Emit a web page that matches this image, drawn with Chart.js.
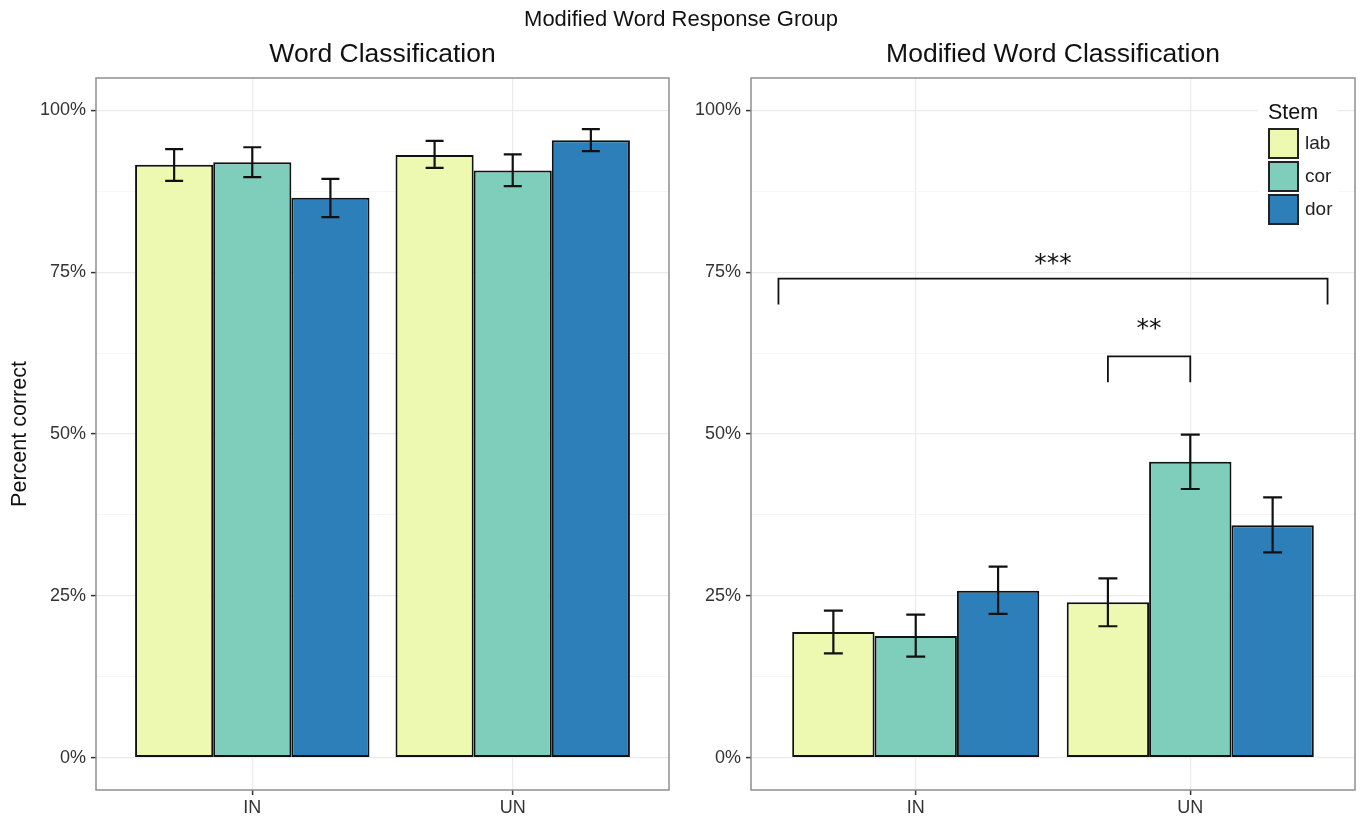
<!DOCTYPE html>
<html>
<head>
<meta charset="utf-8">
<title>Modified Word Response Group</title>
<script src="https://cdn.jsdelivr.net/npm/chart.js@4.4.1/dist/chart.umd.min.js"></script>
<style>
  html, body { margin: 0; padding: 0; background: #fff; }
  #wrap { position: relative; width: 1362px; height: 823px; overflow: hidden; }
  #leftChart { position: absolute; left: 0; top: 0; }
  #rightChart { position: absolute; left: 680px; top: 0; }
  #supTitle {
    position: absolute; left: 0; top: 7px; width: 1362px; text-align: center;
    font: 22px 'Liberation Sans', Arial, sans-serif; line-height: 24px; color: #111;
  }
</style>
</head>
<body>
<div id="wrap">
  <canvas id="leftChart" width="680" height="823"></canvas>
  <canvas id="rightChart" width="682" height="823"></canvas>
  <div id="supTitle">Modified Word Response Group</div>
</div>
<script>
// categories and stems
const categories = ['IN', 'UN'];
const stems = ['lab', 'cor', 'dor'];
const stemColors = ['#edf8b1', '#7fcdbb', '#2c7fb8'];
const yTicks = [0, 12.5, 25, 37.5, 50, 62.5, 75, 87.5, 100];

// Word Classification - percent correct [IN, UN]
const wordLab = [91.6, 93.1];
const wordCor = [92.0, 90.7];
const wordDor = [86.5, 95.4];
// error bars [low, high] per category
const wordLabErr = [[89.1, 94.0], [91.1, 95.3]];
const wordCorErr = [[89.7, 94.3], [88.3, 93.2]];
const wordDorErr = [[83.5, 89.4], [93.7, 97.1]];

// Modified Word Classification - percent correct [IN, UN]
const modLab = [19.4, 24.0];
const modCor = [18.8, 45.7];
const modDor = [25.8, 35.9];
const modLabErr = [[16.1, 22.7], [20.3, 27.7]];
const modCorErr = [[15.6, 22.1], [41.5, 49.9]];
const modDorErr = [[22.2, 29.5], [31.7, 40.2]];

// significance brackets (right panel), x in category units, y in percent
const bracketFrom = [0.5, 1.7];
const bracketTo = [2.5, 2.0];
const bracketY = [74, 62];
const bracketTipY = [70, 58];
const bracketLabels = ['***', '**'];
const bracketLabelY = [77, 67];

Chart.defaults.font.family = "'Liberation Sans', Arial, sans-serif";
Chart.defaults.color = '#333';

function makeDatasets(values, errors) {
  return stems.map((s, k) => ({
    label: s,
    data: categories.map((c, i) => ({ x: i + 1, y: values[k][i] })),
    errors: errors[k],
    backgroundColor: stemColors[k],
    borderColor: '#111',
    borderWidth: 2,
    borderSkipped: false,
    categoryPercentage: 0.9,
    barPercentage: 1.0
  }));
}

const isMajor = v => v % 25 === 0;

function panelOptions(titleText, yTitle, yWidth, rightPad) {
  return {
    responsive: false,
    animation: false,
    events: [],
    layout: { padding: { left: 0, right: rightPad, top: 0, bottom: 0 } },
    plugins: {
      legend: { display: false },
      tooltip: { enabled: false },
      title: {
        display: true,
        text: titleText,
        fullSize: false,
        color: '#111',
        font: { size: 26.5, weight: 'normal' },
        padding: { top: 39, bottom: 7.2 }
      }
    },
    scales: {
      x: {
        type: 'linear',
        min: 0.4,
        max: 2.6,
        offset: false,
        afterBuildTicks: axis => { axis.ticks = categories.map((c, i) => ({ value: i + 1 })); },
        afterFit: axis => { axis.height = 33; },
        ticks: {
          callback: v => categories[Math.round(v) - 1],
          color: '#333',
          font: { size: 18 },
          padding: 2,
          maxRotation: 0
        },
        grid: {
          offset: false,
          color: '#ebebeb',
          lineWidth: 1.2,
          tickLength: 5,
          tickColor: '#333',
          tickWidth: 1.5
        },
        border: { display: false }
      },
      y: {
        min: -5,
        max: 105,
        afterBuildTicks: axis => { axis.ticks = yTicks.map(v => ({ value: v })); },
        afterFit: axis => { axis.width = yWidth; },
        ticks: {
          callback: v => isMajor(v) ? v + '%' : '',
          color: '#333',
          font: { size: 18 },
          padding: 5,
          autoSkip: false
        },
        grid: {
          color: c => isMajor(c.tick.value) ? '#ebebeb' : '#f4f4f4',
          lineWidth: c => isMajor(c.tick.value) ? 1.2 : 0.8,
          tickLength: 5,
          tickColor: c => isMajor(c.tick.value) ? '#333' : 'rgba(0,0,0,0)',
          tickWidth: 1.5
        },
        border: { display: false },
        title: {
          display: !!yTitle,
          text: yTitle,
          color: '#111',
          font: { size: 21.5 },
          padding: { top: 7, bottom: 0 }
        }
      }
    }
  };
}

// error bars drawn at each bar centre
const errorBarPlugin = {
  id: 'errorBars',
  afterDatasetsDraw(chart) {
    const ctx = chart.ctx;
    const yScale = chart.scales.y;
    ctx.save();
    ctx.strokeStyle = '#111';
    ctx.lineWidth = 2.2;
    chart.data.datasets.forEach((ds, k) => {
      const meta = chart.getDatasetMeta(k);
      meta.data.forEach((bar, i) => {
        const lo = yScale.getPixelForValue(ds.errors[i][0]);
        const hi = yScale.getPixelForValue(ds.errors[i][1]);
        const half = bar.width * 0.115;
        ctx.beginPath();
        ctx.moveTo(bar.x, lo);
        ctx.lineTo(bar.x, hi);
        ctx.moveTo(bar.x - half, lo);
        ctx.lineTo(bar.x + half, lo);
        ctx.moveTo(bar.x - half, hi);
        ctx.lineTo(bar.x + half, hi);
        ctx.stroke();
      });
    });
    ctx.restore();
  }
};

// panel border like theme_bw
const framePlugin = {
  id: 'panelFrame',
  afterDatasetsDraw(chart) {
    const a = chart.chartArea;
    const ctx = chart.ctx;
    ctx.save();
    ctx.strokeStyle = '#8f8f8f';
    ctx.lineWidth = 1.5;
    ctx.strokeRect(a.left, a.top, a.right - a.left, a.bottom - a.top);
    ctx.restore();
  }
};

// significance brackets with stars
const bracketPlugin = {
  id: 'sigBrackets',
  afterDatasetsDraw(chart) {
    const ctx = chart.ctx;
    const xs = chart.scales.x;
    const ys = chart.scales.y;
    ctx.save();
    ctx.strokeStyle = '#111';
    ctx.fillStyle = '#111';
    ctx.lineWidth = 1.8;
    ctx.font = "25px 'DejaVu Sans'";
    ctx.textAlign = 'center';
    ctx.textBaseline = 'alphabetic';
    bracketLabels.forEach((lbl, i) => {
      const x1 = xs.getPixelForValue(bracketFrom[i]);
      const x2 = xs.getPixelForValue(bracketTo[i]);
      const y = ys.getPixelForValue(bracketY[i]);
      const yt = ys.getPixelForValue(bracketTipY[i]);
      ctx.beginPath();
      ctx.moveTo(x1, yt);
      ctx.lineTo(x1, y);
      ctx.lineTo(x2, y);
      ctx.lineTo(x2, yt);
      ctx.stroke();
      const m = ctx.measureText(lbl);
      const yl = ys.getPixelForValue(bracketLabelY[i]);
      ctx.fillText(lbl, (x1 + x2) / 2, yl + (m.actualBoundingBoxAscent - m.actualBoundingBoxDescent) / 2);
    });
    ctx.restore();
  }
};

// "Stem" legend inside the right panel
const stemLegendPlugin = {
  id: 'stemLegend',
  afterDatasetsDraw(chart) {
    const a = chart.chartArea;
    const ctx = chart.ctx;
    const x0 = a.right - 87;
    const keyTop = a.top + 50;
    const key = 31;
    const step = 33;
    ctx.save();
    ctx.fillStyle = '#fff';
    ctx.fillRect(x0 - 10, a.top + 17, 80, 142);
    ctx.fillStyle = '#111';
    ctx.font = "21.5px 'Liberation Sans', Arial, sans-serif";
    ctx.textAlign = 'left';
    ctx.textBaseline = 'alphabetic';
    ctx.fillText('Stem', x0, a.top + 41);
    ctx.font = "19px 'Liberation Sans', Arial, sans-serif";
    ctx.textBaseline = 'middle';
    stems.forEach((s, k) => {
      const y = keyTop + k * step;
      ctx.fillStyle = stemColors[k];
      ctx.fillRect(x0, y, key, key);
      ctx.strokeStyle = '#222';
      ctx.lineWidth = 2;
      ctx.strokeRect(x0 + 1, y + 1, key - 2, key - 2);
      ctx.fillStyle = '#222';
      ctx.fillText(s, x0 + 37, y + key / 2);
    });
    ctx.restore();
  }
};

const leftChart = new Chart(document.getElementById('leftChart').getContext('2d'), {
  type: 'bar',
  data: { datasets: makeDatasets([wordLab, wordCor, wordDor], [wordLabErr, wordCorErr, wordDorErr]) },
  options: panelOptions('Word Classification', 'Percent correct', 96, 11),
  plugins: [errorBarPlugin, framePlugin]
});

const rightChart = new Chart(document.getElementById('rightChart').getContext('2d'), {
  type: 'bar',
  data: { datasets: makeDatasets([modLab, modCor, modDor], [modLabErr, modCorErr, modDorErr]) },
  options: panelOptions('Modified Word Classification', '', 71, 7),
  plugins: [errorBarPlugin, framePlugin, bracketPlugin, stemLegendPlugin]
});
</script>
</body>
</html>
